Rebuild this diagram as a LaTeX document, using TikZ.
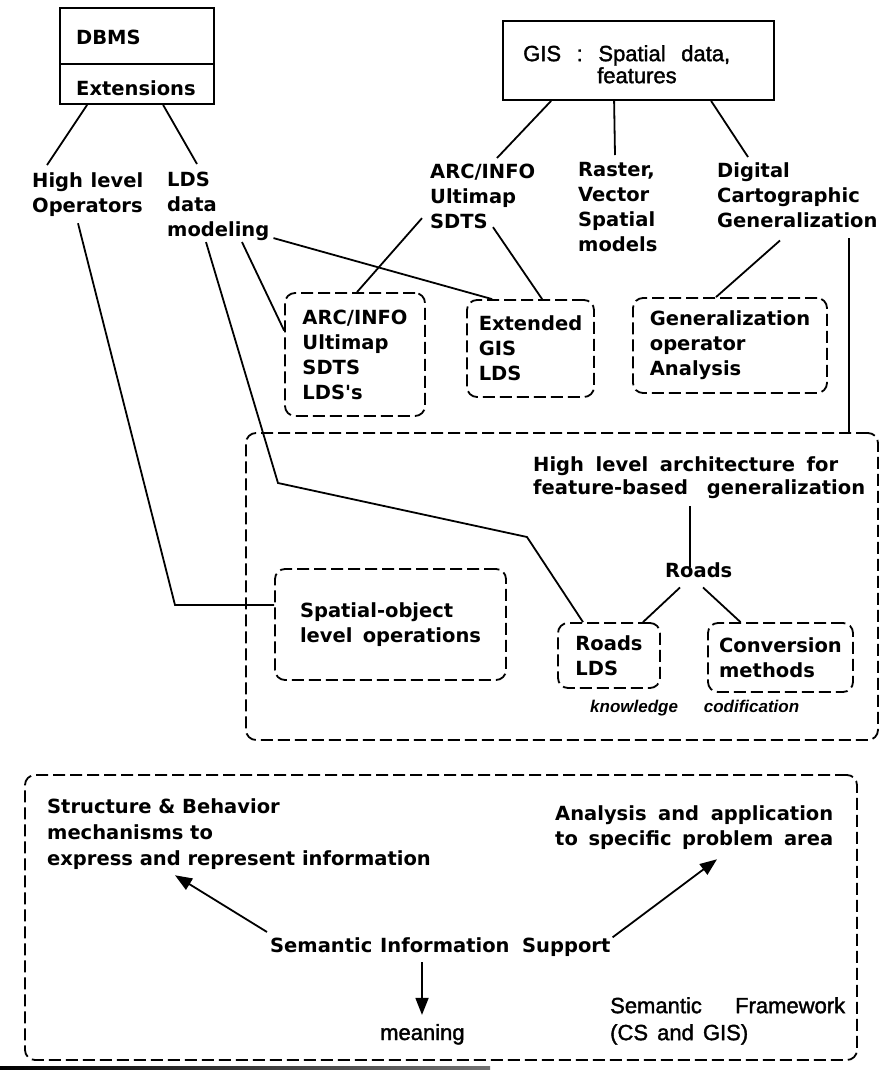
\documentclass[tikz,border=0pt]{standalone}
\usepackage{fontspec}
\usetikzlibrary{calc,arrows.meta}
\newfontfamily\dvfam{DejaVu Sans}
\newfontfamily\lsfam[FakeBold=1.6]{Liberation Sans}
\newfontfamily\lsfamI{Liberation Sans}
\newcommand\fB{\dvfam\bfseries\fontsize{19.5}{25}\selectfont}
\newcommand\fBt{\dvfam\bfseries\fontsize{19.5}{23}\selectfont}
\newcommand\fBs{\dvfam\bfseries\fontsize{19.5}{26}\selectfont}
\newcommand\fR{\lsfam\fontsize{22}{27}\selectfont}
\newcommand\fRg{\lsfam\fontsize{22}{22}\selectfont}
\newcommand\fI{\lsfamI\bfseries\itshape\fontsize{17}{20}\selectfont}
\begin{document}
\begin{tikzpicture}[x=1pt,y=-1pt,
  txt/.style={font=\fB, inner sep=0pt, align=left, anchor=north west},
  btxt/.style={font=\fB, inner sep=0pt, anchor=base west},
  sbox/.style={draw, line width=1.8pt, inner sep=0pt},
  dbox/.style={draw, line width=1.8pt, dash pattern=on 12pt off 5pt, rounded corners=10pt, inner sep=0pt, font=\fB, align=left},
  ln/.style={line width=1.8pt},
  arr/.style={line width=1.8pt, -{Triangle[length=17pt,width=13pt]}},
]
\useasboundingbox (0,0) rectangle (888,1072);

% top boxes
\node[sbox, minimum width=154pt, minimum height=96pt] (dbms) at (137,56) {};
\node[btxt] (dbmsT) at (76,44) {DBMS};
\node[btxt] (extT) at (76,95) {Extensions};
\draw[ln] ($(dbms.north west)+(0,57)$) -- ($(dbms.north east)+(0,57)$);

\node[sbox, minimum width=271pt, minimum height=79pt] (gis) at (638.5,60.5) {};
\node[txt, font=\fRg] (gisT) at (523,45) {\makebox[207pt][s]{GIS : Spatial data,}\\\hspace*{74pt}features};

% second row texts
\node[txt] (hlo) at (32,172) {\makebox[111pt][s]{High level}\\Operators};
\node[txt] (lds) at (167,172) {LDS\\data\\modeling};
\node[txt] (arcT) at (430,164) {ARC/INFO\\Ultimap\\SDTS};
\node[txt] (raster) at (578,162) {Raster,\\Vector\\Spatial\\models};
\node[txt] (digital) at (717,162) {Digital\\Cartographic\\Generalization};

% dashed boxes
\node[dbox, minimum width=140pt, minimum height=123pt] (arcB) at (355,354.5) {ARC/INFO\\Ultimap\\SDTS\\LDS's};
\node[dbox, minimum width=127pt, minimum height=97pt] (extB) at (530.5,348.5) {Extended\\GIS\\LDS};
\node[dbox, minimum width=194pt, minimum height=95pt] (genB) at (730,345.5) {Generalization\\operator\\Analysis};

% architecture box
\node[dbox, minimum width=632pt, minimum height=307pt] (arch) at (562,586.5) {};
\node[txt, font=\fBt] (archT) at (533,456) {\makebox[305pt][s]{High level architecture for}\\\makebox[332pt][s]{feature-based generalization}};
\node[btxt] (roads) at (665,577) {Roads};
\node[dbox, minimum width=231pt, minimum height=111pt] (spB) at (390.5,624.5) {Spatial-object\\\makebox[181pt][s]{level operations}};
\node[dbox, minimum width=102pt, minimum height=65pt] (rlB) at (609,655.5) {Roads\\LDS};
\node[dbox, minimum width=145pt, minimum height=69pt] (convB) at (780.5,657.5) {Conversion\\methods};
\node[font=\fI, inner sep=0pt, anchor=base west] (kc) at (590,712) {\makebox[209pt][s]{knowledge codification}};

% bottom box
\node[dbox, minimum width=832pt, minimum height=285pt] (semB) at (441,917.5) {};
\node[txt, font=\fBs] (structT) at (47,798) {Structure \& Behavior\\mechanisms to\\express and represent information};
\node[txt] (analT) at (555,805) {\makebox[278pt][s]{Analysis and application}\\\makebox[278pt][s]{to specific problem area}};
\node[btxt] (sem) at (270,952) {Semantic};
\node[btxt] (info) at (380,952) {Information};
\node[btxt] (sup) at (522,952) {Support};
\node[font=\fR, inner sep=0pt, anchor=base west] (meaning) at (380,1040) {meaning};
\node[txt, font=\fR] (frame) at (610,997) {\makebox[235pt][s]{Semantic Framework}\\\makebox[138pt][s]{(CS and GIS)}};

% connectors
\draw[ln] ($(dbms.south west)+(28,0)$) -- ($(hlo.north west)+(15,-7)$);
\draw[ln] ($(dbms.south west)+(104,0)$) -- ($(lds.north west)+(30,-8)$);
\draw[ln] ($(gis.south west)+(49,0)$) -- ($(arcT.north west)+(67,-6)$);
\draw[ln] ($(gis.south west)+(112,0)$) -- ($(raster.north west)+(37,-7)$);
\draw[ln] ($(gis.south west)+(209,0)$) -- ($(digital.north west)+(31,-5)$);

\coordinate (c1) at (175,605);
\draw[ln] ($(hlo.south west)+(46,7)$) -- (c1) -- (c1 -| spB.west);
\coordinate (c2) at (278,483);
\coordinate (c3) at (527,537);
\draw[ln] ($(lds.south west)+(39,1)$) -- (c2) -- (c3) -- ($(rlB.north)+(-26,0)$);
\draw[ln] ($(lds.south west)+(75,1)$) -- ($(arcB.west)+(0,-24)$);
\draw[ln] ($(lds.south east)+(4,-3)$) -- ($(extB.north west)+(26,0)$);
\draw[ln] ($(arcT.south west)+(-8,-11)$) -- ($(arcB.north)+(2,0)$);
\draw[ln] ($(arcT.south west)+(63,-2)$) -- ($(extB.north west)+(76,0)$);
\draw[ln] ($(digital.south west)+(63,13)$) -- ($(genB.north)+(-14,0)$);
\draw[ln] ($(digital.south west)+(132,11)$) coordinate (c4) -- (c4 |- arch.north);

\draw[ln] ($(archT.south west)+(157,8)$) -- ($(roads.north west)+(25,5)$);
\draw[ln] ($(roads.south west)+(15,10)$) -- ($(rlB.north)+(34,0)$);
\draw[ln] ($(roads.south west)+(38,10)$) -- ($(convB.north)+(-40,0)$);

\draw[arr] ($(sem.north west)+(-3,-5)$) -- ($(structT.south west)+(128,6)$);
\draw[arr] ($(info.south west)+(42,10)$) -- ($(meaning.north west)+(42,-9)$);
\draw[arr] ($(sup.north east)+(2,0)$) -- ($(analT.south west)+(162,10)$);

% rule at page bottom
\shade[left color=black, right color=black!55] (0,1066.5) rectangle (490,1069.5);
\end{tikzpicture}
\end{document}
